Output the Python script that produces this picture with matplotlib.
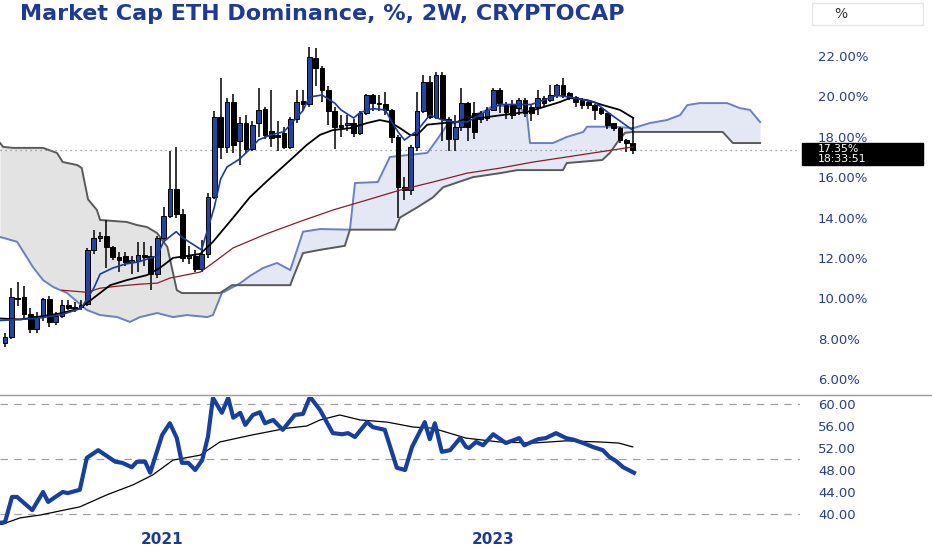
import numpy as np
import pandas as pd
import matplotlib
matplotlib.use('Agg')
import matplotlib.pyplot as plt
from matplotlib.patches import Rectangle
import matplotlib.transforms as mtransforms

# 2W candles, ETH dominance in %
opens = [7.8, 8.1, 10.0, 10.05, 9.2, 8.5, 9.05, 9.95, 8.85, 9.1,
         9.65, 9.5, 9.55, 9.7, 12.4, 13.0, 13.1, 12.55, 12.05, 12.1,
         11.8, 11.85, 12.15, 12.1, 11.2, 13.0, 14.1, 15.4, 14.2, 12.0,
         12.1, 11.45, 12.2, 15.0, 19.0, 17.5, 19.7, 17.8, 18.7, 17.4,
         18.7, 19.4, 18.3, 18.1, 18.2, 17.5, 18.9, 19.75, 19.6, 21.9,
         21.4, 20.3, 19.3, 18.55, 18.6, 18.7, 18.2, 19.2, 20.05, 19.65,
         19.6, 19.35, 18.0, 15.5, 15.35, 17.5, 19.3, 20.7, 19.0, 21.05,
         18.9, 17.9, 18.5, 19.65, 19.2, 18.9, 18.93, 19.33, 20.32, 19.57,
         19.57, 19.42, 19.82, 19.47, 19.47, 19.92, 19.82, 20.07, 20.56, 20.17,
         19.97, 19.82, 19.72, 19.57, 19.42, 19.18, 18.68, 18.43, 17.84, 17.69]
highs = [8.3, 10.5, 10.8, 10.6, 9.5, 9.3, 10.0, 10.1, 9.3, 9.9,
         9.9, 9.8, 9.9, 12.5, 13.4, 13.3, 13.9, 12.6, 12.3, 12.3,
         12.1, 12.8, 12.8, 12.6, 13.1, 14.5, 17.3, 17.5, 14.4, 12.6,
         12.4, 12.9, 15.2, 19.3, 20.9, 19.9, 20.1, 19.0, 19.1, 18.8,
         20.4, 19.5, 20.3, 18.8, 18.5, 19.0, 20.3, 20.3, 22.45, 22.4,
         21.5, 20.5, 19.5, 19.1, 19.1, 18.9, 19.3, 20.1, 20.1, 20.05,
         20.2, 19.4, 18.1, 16.0, 17.6, 20.2, 21.06, 21.0, 21.2, 21.2,
         19.0, 19.1, 20.4, 19.7, 19.7, 19.3, 19.5, 20.4, 20.4, 19.7,
         19.8, 19.9, 19.9, 19.6, 20.3, 20.0, 20.56, 20.6, 20.9, 20.2,
         20.0, 19.9, 19.8, 19.6, 19.5, 19.2, 18.7, 18.5, 17.9, 18.93]
lows = [7.6, 8.0, 9.6, 9.0, 8.3, 8.3, 8.9, 8.6, 8.7, 9.0,
        9.4, 9.3, 9.4, 9.6, 12.2, 12.8, 11.5, 11.9, 11.3, 11.6,
        11.2, 11.3, 11.6, 10.4, 11.0, 12.9, 14.0, 14.0, 11.8, 11.7,
        11.3, 11.3, 12.0, 14.9, 16.9, 17.2, 17.2, 16.6, 17.2, 17.3,
        18.0, 17.9, 17.5, 17.3, 17.4, 17.4, 18.7, 19.3, 19.5, 20.5,
        19.7, 18.6, 17.4, 18.0, 18.3, 18.0, 18.1, 19.1, 19.3, 19.3,
        19.1, 17.7, 14.0, 14.85, 15.1, 17.3, 19.2, 18.9, 18.9, 17.8,
        17.3, 17.3, 18.3, 17.8, 17.9, 18.7, 18.8, 19.3, 19.2, 18.9,
        18.9, 19.1, 19.0, 18.8, 19.1, 19.5, 19.7, 19.9, 19.9, 19.8,
        19.5, 19.4, 19.4, 18.83, 19.1, 18.4, 18.3, 17.7, 17.25, 17.15]
closes = [8.1, 10.05, 9.95, 9.2, 8.5, 9.1, 9.95, 8.85, 9.1, 9.65,
          9.5, 9.55, 9.65, 12.4, 13.0, 13.1, 12.55, 12.05, 11.9, 11.8,
          11.9, 12.15, 12.05, 11.2, 13.0, 14.1, 15.4, 14.2, 12.0, 12.1,
          11.45, 12.2, 15.0, 19.0, 17.5, 19.7, 17.6, 18.7, 17.4, 18.6,
          19.35, 18.1, 17.95, 18.0, 17.5, 18.9, 19.7, 19.6, 21.95, 21.4,
          20.3, 19.3, 18.5, 18.5, 18.7, 18.2, 19.2, 20.05, 19.65, 19.6,
          19.35, 18.0, 15.5, 15.35, 17.5, 19.3, 20.7, 19.0, 21.05, 18.9,
          17.9, 18.5, 19.65, 18.5, 18.25, 19.2, 19.33, 20.32, 19.67, 19.23,
          19.08, 19.82, 19.18, 19.18, 19.92, 19.67, 20.07, 20.56, 20.07, 19.97,
          19.72, 19.57, 19.57, 19.33, 19.18, 18.58, 18.43, 17.84, 17.69, 17.35]
last_price = 17.35
last_time = "18:33:51"
first_bar = "2020-01-20"
year_ticks = [2021, 2023]

# fast line (blue), slow line (black), long line (dark red): bar index, value
fast_x = [-0.8, 2, 5, 9, 12, 14, 15, 17, 19, 21, 24, 25, 27, 28, 30, 31, 33, 34, 35, 37,
          39, 40, 42, 44, 45, 47, 48, 50, 52, 53, 55, 56, 58, 60, 61, 62, 63, 65, 67, 69,
          71, 73, 75, 78, 83, 87, 89, 93, 95, 99]
fast_v = [8.9, 8.95, 9.0, 9.2, 9.5, 10.5, 11.2, 11.5, 11.7, 11.8, 12.1, 12.8, 13.3, 13.0, 12.6, 12.4, 14.5, 15.9, 16.5, 16.9,
          17.5, 17.85, 18.1, 18.25, 18.6, 19.3, 19.97, 20.07, 19.67, 19.33, 18.93, 19.2, 19.4, 19.33, 18.73, 18.24, 17.84, 18.3, 19.08, 18.83,
          18.73, 18.75, 19.1, 19.6, 19.6, 20.05, 19.97, 19.72, 19.23, 18.33]
slow_x = [-0.8, 2.4, 8.7, 11.8, 13.9, 16.6, 19.2, 22.4, 24.4, 26.5, 28.7, 30.8, 32.8, 36.0, 38.6, 41.3, 45.0, 47.6, 49.7, 51.7,
          54.4, 57.1, 59.1, 60.7, 62.3, 63.9, 65.0, 66.6, 69.1, 71.3, 73.3, 74.9, 78.5, 82.3, 84.9, 87.5, 89.1, 91.8, 94.3, 97.0, 99.1]
slow_v = [9.0, 8.95, 9.25, 9.5, 10.0, 10.65, 10.9, 11.15, 11.5, 12.0, 12.1, 12.2, 12.8, 14.0, 15.0, 15.8, 16.85, 17.6, 18.1, 18.33,
          18.43, 18.68, 18.83, 18.73, 18.43, 18.09, 18.09, 18.6, 18.68, 18.73, 18.98, 18.93, 19.08, 19.23, 19.47, 19.72, 19.92, 19.82, 19.57, 19.33, 18.93]
long_x = [9.0, 12.9, 15.0, 17.7, 21.3, 24.0, 26.0, 30.8, 32.8, 36.0, 41.3, 46.5, 51.7, 57.1, 62.3, 67.5, 72.9, 78.1, 83.3, 88.6, 93.8, 99.1]
long_v = [10.4, 10.3, 10.5, 10.6, 10.7, 10.75, 11.0, 11.3, 11.75, 12.5, 13.2, 13.8, 14.37, 14.87, 15.36, 15.76, 16.2, 16.45, 16.75, 17.0, 17.25, 17.5]

# cloud edges
span_a_x = [-0.8, 1.9, 4.4, 6.0, 7.6, 9.8, 12.9, 15.0, 17.7, 19.7, 21.3, 24.0, 26.5, 28.7, 31.9, 32.8, 34.2, 37.1, 38.6, 40.7,
            42.9, 45.0, 47.0, 49.7, 54.4, 55.2, 58.8, 60.7, 66.6, 68.1, 69.7, 71.3, 76.0, 77.0, 80.8, 82.3, 82.8, 86.4, 88.6, 91.2,
            91.8, 95.9, 99.1, 101.7, 104.4, 106.5, 107.6, 109.6, 113.9, 115.9, 117.5, 119.1]
span_a_v = [13.04, 12.8, 11.55, 10.9, 10.56, 10.26, 9.42, 9.17, 9.07, 8.83, 9.07, 9.27, 9.07, 9.17, 9.07, 9.17, 10.26, 10.75, 11.1, 11.5,
            11.75, 11.4, 13.3, 13.43, 13.4, 15.71, 15.76, 17.0, 17.2, 17.84, 18.58, 18.73, 19.33, 19.57, 19.47, 19.18, 17.69, 17.69, 17.99, 18.24,
            18.5, 18.5, 18.43, 18.68, 18.83, 19.08, 19.57, 19.67, 19.67, 19.42, 19.33, 18.73]
span_b_x = [-0.8, -0.3, 1.3, 6.0, 8.2, 9.1, 11.4, 12.1, 13.1, 14.5, 15.0, 19.2, 20.8, 22.4, 24.0, 25.6, 27.1, 27.9, 33.9, 35.8,
            45.0, 45.4, 47.0, 49.7, 53.6, 54.4, 61.5, 62.3, 65.0, 67.5, 69.1, 73.8, 78.1, 80.8, 88.0, 88.6, 94.2, 95.4, 96.5, 97.8,
            99.1, 113.2, 114.8, 119.1]
span_b_v = [17.7, 17.5, 17.45, 17.45, 17.2, 16.75, 16.6, 16.45, 14.9, 14.37, 13.88, 13.78, 13.63, 13.53, 13.23, 12.54, 10.4, 10.26, 10.26, 10.65,
            10.65, 11.0, 12.24, 12.4, 12.6, 13.4, 13.4, 14.0, 14.5, 15.0, 15.5, 16.0, 16.2, 16.35, 16.35, 16.7, 16.85, 17.2, 17.69, 18.2,
            18.24, 18.24, 17.69, 17.69]

# lower pane oscillator and its average
osc_x = [-0.8, 0, 1.1, 1.9, 4.3, 6.0, 6.8, 9.1, 9.9, 11.8, 12.9, 14.7, 17.4, 18.5, 20.0, 20.8, 22.1, 22.9, 24.8, 26.0,
         27.1, 27.9, 28.9, 30.0, 31.1, 32.0, 32.8, 34.2, 35.2, 36.0, 37.1, 37.9, 39.1, 40.2, 41.0, 42.3, 43.8, 45.7, 47.0, 48.1,
         49.7, 51.7, 53.2, 54.1, 55.2, 57.1, 58.0, 59.9, 61.8, 63.1, 64.2, 66.2, 67.0, 67.8, 68.9, 70.2, 71.8, 72.7, 73.2, 74.3,
         75.4, 77.0, 79.0, 81.1, 81.9, 84.1, 85.3, 86.9, 88.5, 89.7, 91.2, 92.7, 94.3, 95.3, 96.4, 97.5, 99.2]
osc_v = [38.4, 38.5, 43.1, 43.1, 40.7, 44.0, 42.2, 44.0, 43.8, 44.4, 50.2, 51.6, 49.5, 49.3, 48.5, 49.5, 49.5, 47.5, 54.4, 56.5,
         53.8, 49.3, 49.3, 48.0, 49.8, 54.0, 61.1, 58.4, 61.1, 57.5, 58.4, 56.2, 58.0, 58.5, 56.5, 57.1, 55.3, 58.0, 58.2, 61.3,
         58.9, 54.7, 54.5, 54.7, 54.0, 56.7, 55.8, 55.3, 48.4, 48.0, 52.2, 56.7, 53.6, 56.5, 51.3, 51.6, 53.8, 52.2, 52.0, 53.1,
         52.5, 54.5, 52.9, 53.8, 52.5, 53.6, 53.8, 54.7, 53.8, 53.5, 52.9, 52.2, 51.6, 50.4, 49.6, 48.5, 47.5]
osc_ma_x = [-0.8, 2.4, 5.5, 11.8, 16.1, 20.2, 23.3, 26.5, 30.8, 33.9, 39.1, 44.5, 47.6, 49.7, 52.8, 56.0, 60.3, 64.4, 67.5,
            72.7, 77.9, 83.3, 88.5, 93.7, 96.8, 99.0]
osc_ma_v = [38.0, 39.3, 39.8, 41.3, 43.5, 45.3, 47.1, 49.8, 50.7, 53.1, 54.4, 55.6, 56.0, 57.1, 58.0, 57.1, 56.7, 55.8, 55.6,
            53.8, 53.1, 52.9, 53.3, 53.1, 52.9, 52.2]
osc_levels = [40, 50, 60]
price_ticks = [6, 8, 10, 12, 14, 16, 18, 20, 22]
osc_ticks = [40, 44, 48, 52, 56, 60]

label_blue = '#2b3d8c'
up_blue = '#2444a0'

fig = plt.figure(figsize=(9.32, 5.5), dpi=100)
ax = fig.add_axes([0, 155 / 550, 800 / 932, 365 / 550])
rx = fig.add_axes([0, 25 / 550, 800 / 932, 128 / 550], sharex=ax)

# cloud
grid = np.union1d(span_a_x, span_b_x)
a = np.interp(grid, span_a_x, span_a_v)
b = np.interp(grid, span_b_x, span_b_v)
ax.fill_between(grid, a, b, where=a >= b, interpolate=True, color='#e4e8f4', lw=0, zorder=1)
ax.fill_between(grid, a, b, where=a < b, interpolate=True, color='#e3e3e3', lw=0, zorder=1)
ax.plot(span_a_x, span_a_v, color='#6a7fc4', lw=1.4, zorder=2)
ax.plot(span_b_x, span_b_v, color='#5a5a5a', lw=1.4, zorder=2)

ax.axhline(last_price, color='#8a8a8a', lw=0.9, ls=(0, (1, 3)), zorder=2)

# candles
x = np.arange(len(closes))
o = np.array(opens)
c = np.array(closes)
up = c >= o
body_lo = np.minimum(o, c)
body_h = np.maximum(np.abs(c - o), 0.06)
ax.vlines(x, lows, highs, color='black', lw=1.1, zorder=4)
ax.bar(x[up], body_h[up], bottom=body_lo[up], width=0.74, color=up_blue,
       edgecolor='black', lw=0.7, zorder=5)
ax.bar(x[~up], body_h[~up], bottom=body_lo[~up], width=0.74, color='black',
       edgecolor='black', lw=0.7, zorder=5)

ax.plot(long_x, long_v, color='#8c1c24', lw=0.9, zorder=6)
ax.plot(slow_x, slow_v, color='black', lw=1.3, zorder=6)
ax.plot(fast_x, fast_v, color='#1c3a9c', lw=1.2, zorder=6)

ax.set_xlim(-0.79, 125.39)
ax.set_ylim(5.21, 23.29)
ax.yaxis.tick_right()
ax.set_yticks(price_ticks)
ax.set_yticklabels(['%.2f%%' % t for t in price_ticks])
ax.tick_params(axis='y', length=0, pad=13, labelsize=9.5, labelcolor=label_blue)
ax.tick_params(axis='x', length=0, labelbottom=False)
for s in ax.spines.values():
    s.set_visible(False)

# last price tag
tr = mtransforms.blended_transform_factory(ax.transAxes, ax.transData)
ax.add_patch(Rectangle((1.003, last_price - 0.745), 0.151, 1.09, transform=tr,
                       color='black', clip_on=False, zorder=10))
ax.text(1.022, last_price - 0.2, '%.2f%%\n%s' % (last_price, last_time), transform=tr,
        color='white', fontsize=7.8, linespacing=1.05, ha='left', va='center', zorder=11)

# oscillator pane
for lv in osc_levels:
    rx.axhline(lv, color='#a0a0a0', lw=0.9, ls=(0, (6, 5)), zorder=1)
rx.plot(osc_ma_x, osc_ma_v, color='black', lw=0.9, zorder=3)
rx.plot(osc_x, osc_v, color='#173f9e', lw=3, zorder=4, solid_joinstyle='round')
rx.set_ylim(38.0, 61.27)
rx.yaxis.tick_right()
rx.set_yticks(osc_ticks)
rx.set_yticklabels(['%.2f' % t for t in osc_ticks])
rx.tick_params(axis='y', length=0, pad=13, labelsize=9.5, labelcolor=label_blue)
start = pd.Timestamp(first_bar)
tick_pos = [(pd.Timestamp('%d-01-01' % y) - start).days / 14 for y in year_ticks]
rx.set_xticks(tick_pos)
rx.set_xticklabels([str(y) for y in year_ticks])
rx.tick_params(axis='x', length=0, pad=5, labelsize=11, labelcolor='#1c3a94')
for lab in rx.get_xticklabels():
    lab.set_fontweight('bold')
for s in rx.spines.values():
    s.set_visible(False)

# pane separator
fig.add_artist(plt.Line2D([0, 1], [155 / 550, 155 / 550], transform=fig.transFigure,
                          color='#9a9a9a', lw=1))

fig.text(20 / 932, 1 - 14 / 550, 'Market Cap ETH Dominance, %, 2W, CRYPTOCAP',
         fontsize=16, fontweight='bold', color='#1e3a94', va='center', ha='left')
fig.add_artist(Rectangle((812 / 932, 1 - 25 / 550), 111 / 932, 22 / 550,
                         transform=fig.transFigure, facecolor='white',
                         edgecolor='#e6e6e6', lw=1))
fig.text(841 / 932, 1 - 14 / 550, '%', fontsize=10, color='#333333', va='center', ha='center')

fig.savefig('out.png', dpi=100, facecolor='white')
